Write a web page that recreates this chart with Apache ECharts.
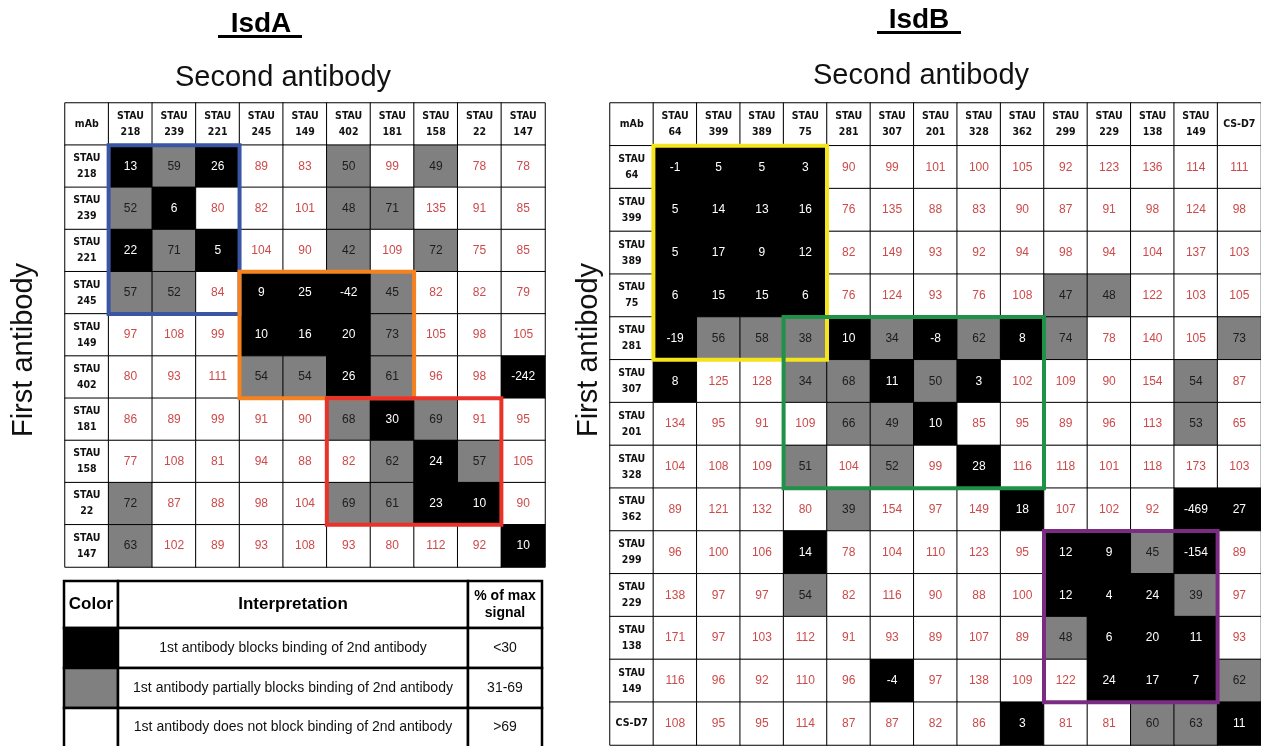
<!DOCTYPE html>
<html>
<head>
<meta charset="utf-8">
<title>IsdA / IsdB competition binning</title>
<script src="https://cdn.jsdelivr.net/npm/echarts@6/dist/echarts.min.js"></script>
<style>
  html, body { margin: 0; padding: 0; background: #ffffff; }
  #chart { width: 1261px; height: 746px; }
</style>
</head>
<body>
<div id="chart"></div>
<script>
// ---- IsdA panel: rows = first antibody, columns = second antibody (% of max signal)
const isdAMabs = ['STAU 218', 'STAU 239', 'STAU 221', 'STAU 245', 'STAU 149',
                  'STAU 402', 'STAU 181', 'STAU 158', 'STAU 22', 'STAU 147'];
const isdAValues = [
  [13, 59, 26, 89, 83, 50, 99, 49, 78, 78],
  [52, 6, 80, 82, 101, 48, 71, 135, 91, 85],
  [22, 71, 5, 104, 90, 42, 109, 72, 75, 85],
  [57, 52, 84, 9, 25, -42, 45, 82, 82, 79],
  [97, 108, 99, 10, 16, 20, 73, 105, 98, 105],
  [80, 93, 111, 54, 54, 26, 61, 96, 98, -242],
  [86, 89, 99, 91, 90, 68, 30, 69, 91, 95],
  [77, 108, 81, 94, 88, 82, 62, 24, 57, 105],
  [72, 87, 88, 98, 104, 69, 61, 23, 10, 90],
  [63, 102, 89, 93, 108, 93, 80, 112, 92, 10]
];
// B = blocks, G = partially blocks, W = does not block
const isdAClass = [
  'BGBWWGWGWW', 'GBWWWGGWWW', 'BGBWWGWGWW', 'GGWBBBGWWW', 'WWWBBBGWWW',
  'WWWGGBGWWB', 'WWWWWGBGWW', 'WWWWWWGBGW', 'GWWWWGGBBW', 'GWWWWWWWWB'
];
// competition groups: [first column, last column, first row, last row]
const isdAGroups = [
  ['STAU 218', 'STAU 221', 'STAU 218', 'STAU 245'],
  ['STAU 245', 'STAU 181', 'STAU 245', 'STAU 402'],
  ['STAU 402', 'STAU 22', 'STAU 181', 'STAU 22']
];

// ---- IsdB panel
const isdBMabs = ['STAU 64', 'STAU 399', 'STAU 389', 'STAU 75', 'STAU 281', 'STAU 307',
                  'STAU 201', 'STAU 328', 'STAU 362', 'STAU 299', 'STAU 229', 'STAU 138',
                  'STAU 149', 'CS-D7'];
const isdBValues = [
  [-1, 5, 5, 3, 90, 99, 101, 100, 105, 92, 123, 136, 114, 111],
  [5, 14, 13, 16, 76, 135, 88, 83, 90, 87, 91, 98, 124, 98],
  [5, 17, 9, 12, 82, 149, 93, 92, 94, 98, 94, 104, 137, 103],
  [6, 15, 15, 6, 76, 124, 93, 76, 108, 47, 48, 122, 103, 105],
  [-19, 56, 58, 38, 10, 34, -8, 62, 8, 74, 78, 140, 105, 73],
  [8, 125, 128, 34, 68, 11, 50, 3, 102, 109, 90, 154, 54, 87],
  [134, 95, 91, 109, 66, 49, 10, 85, 95, 89, 96, 113, 53, 65],
  [104, 108, 109, 51, 104, 52, 99, 28, 116, 118, 101, 118, 173, 103],
  [89, 121, 132, 80, 39, 154, 97, 149, 18, 107, 102, 92, -469, 27],
  [96, 100, 106, 14, 78, 104, 110, 123, 95, 12, 9, 45, -154, 89],
  [138, 97, 97, 54, 82, 116, 90, 88, 100, 12, 4, 24, 39, 97],
  [171, 97, 103, 112, 91, 93, 89, 107, 89, 48, 6, 20, 11, 93],
  [116, 96, 92, 110, 96, -4, 97, 138, 109, 122, 24, 17, 7, 62],
  [108, 95, 95, 114, 87, 87, 82, 86, 3, 81, 81, 60, 63, 11]
];
const isdBClass = [
  'BBBBWWWWWWWWWW', 'BBBBWWWWWWWWWW', 'BBBBWWWWWWWWWW', 'BBBBWWWWWGGWWW',
  'BGGGBGBGBGWWWG', 'BWWGGBGBWWWWGW', 'WWWWGGBWWWWWGW', 'WWWGWGWBWWWWWW',
  'WWWWGWWWBWWWBB', 'WWWBWWWWWBBGBW', 'WWWGWWWWWBBBGW', 'WWWWWWWWWGBBBW',
  'WWWWWBWWWWBBBG', 'WWWWWWWWBWWGGB'
];
const isdBGroups = [
  ['STAU 64', 'STAU 75', 'STAU 64', 'STAU 281'],
  ['STAU 75', 'STAU 362', 'STAU 281', 'STAU 328'],
  ['STAU 299', 'STAU 149', 'STAU 299', 'STAU 149']
];

// ---- key table
const keyHeaders = ['Color', 'Interpretation', '% of max\nsignal'];
const keyClasses = ['B', 'G', 'W'];
const keyMeaning = [
  '1st antibody blocks binding of 2nd antibody',
  '1st antibody partially blocks binding of 2nd antibody',
  '1st antibody does not block binding of 2nd antibody'
];
const keyRange = ['<30', '31-69', '>69'];

// ---- styling
const FILL = { B: '#000000', G: '#808080', W: '#ffffff' };
const TEXT = { B: '#ffffff', G: '#1c1c1c', W: '#cc4a4a' };
const SANS = "'Liberation Sans', Arial, sans-serif";
const NARROW = "'Liberation Sans Narrow', 'DejaVu Sans Condensed', 'Roboto Condensed', 'Liberation Sans', sans-serif";

const chart = echarts.init(document.getElementById('chart'), null, { renderer: 'canvas' });

const grids = [];
const xAxes = [];
const yAxes = [];
const series = [];

function addPanel(idx, mabs, values, classes, groups, groupColors, box) {
  const cats = ['mAb'].concat(mabs);
  grids.push({ left: box.left, top: box.top, width: box.width, height: box.height, containLabel: false });
  xAxes.push({ type: 'category', gridIndex: idx, data: cats, show: false });
  yAxes.push({ type: 'category', gridIndex: idx, data: cats, inverse: true, show: false });

  // header cells (top row and left column)
  const headerData = [];
  cats.forEach((c, j) => headerData.push({ value: [j, 0, 0], name: c }));
  mabs.forEach((c, i) => headerData.push({ value: [0, i + 1, 0], name: c }));
  series.push({
    type: 'heatmap',
    xAxisIndex: idx, yAxisIndex: idx,
    data: headerData,
    itemStyle: { color: '#ffffff', borderColor: '#000000', borderWidth: 1 },
    label: {
      show: true,
      formatter: p => p.data.name.replace(' ', '\n'),
      color: '#111111',
      fontFamily: NARROW,
      fontWeight: 'bold',
      fontSize: 10.5,
      lineHeight: 16
    },
    emphasis: { disabled: true },
    silent: true,
    z: 2
  });

  // measured cells
  const cellData = [];
  values.forEach((row, i) => {
    row.forEach((v, j) => {
      const k = classes[i][j];
      cellData.push({
        value: [j + 1, i + 1, v],
        itemStyle: { color: FILL[k] },
        label: { color: TEXT[k] }
      });
    });
  });
  series.push({
    type: 'heatmap',
    xAxisIndex: idx, yAxisIndex: idx,
    data: cellData,
    itemStyle: { borderColor: '#000000', borderWidth: 1 },
    label: {
      show: true,
      formatter: p => String(p.value[2]),
      fontFamily: SANS,
      fontSize: 12
    },
    emphasis: { disabled: true },
    silent: true,
    z: 2
  });

  // outlined competition groups
  series.push({
    type: 'custom',
    xAxisIndex: idx, yAxisIndex: idx,
    encode: { x: [0, 2], y: [1, 3] },
    clip: false,
    silent: true,
    z: 5,
    data: groups.map((g, n) => ({
      value: [cats.indexOf(g[0]), cats.indexOf(g[2]), cats.indexOf(g[1]), cats.indexOf(g[3])],
      itemStyle: { color: groupColors[n] }
    })),
    renderItem: (params, api) => {
      const x0 = api.value(0), y0 = api.value(1), x1 = api.value(2), y1 = api.value(3);
      const p0 = api.coord([x0, y0]);
      const sz = api.size([1, 1]);
      return {
        type: 'rect',
        shape: {
          x: p0[0] - sz[0] / 2,
          y: p0[1] - sz[1] / 2,
          width: (x1 - x0 + 1) * sz[0],
          height: (y1 - y0 + 1) * sz[1]
        },
        style: { fill: null, stroke: api.visual('color'), lineWidth: 4 }
      };
    }
  });
}

addPanel(0, isdAMabs, isdAValues, isdAClass, isdAGroups,
  ['#3a55a4', '#f5821f', '#e8322a'],
  { left: 65, top: 103, width: 480, height: 464 });
addPanel(1, isdBMabs, isdBValues, isdBClass, isdBGroups,
  ['#f3e41c', '#1f9247', '#7a2c82'],
  { left: 610, top: 103, width: 652, height: 642 });

// ---- titles, axis captions and the colour key
const graphic = [];
function title(text, cx, cy, ux0, ux1, uy) {
  graphic.push({ type: 'text', style: { text, x: cx, y: cy, fill: '#000', font: 'bold 28px ' + SANS, align: 'center', verticalAlign: 'middle' } });
  graphic.push({ type: 'line', shape: { x1: ux0, y1: uy, x2: ux1, y2: uy }, style: { stroke: '#000', lineWidth: 3 } });
}
title('IsdA', 261, 24, 218, 302, 36.5);
title('IsdB', 919, 20, 877, 961, 32.5);

function caption(text, x, y, rot) {
  graphic.push({ type: 'text', x, y, rotation: rot, style: { text, x: 0, y: 0, fill: '#111', font: '29px ' + SANS, align: 'center', verticalAlign: 'middle' } });
}
caption('Second antibody', 283, 78, 0);
caption('Second antibody', 921, 76, 0);
caption('First antibody', 24, 350, Math.PI / 2);
caption('First antibody', 589, 350, Math.PI / 2);

// key table
const kx = [64, 118, 468, 542];
const ky = [581, 628, 668, 708, 770];
const headSize = [17, 17, 14];
for (let c = 0; c < 3; c++) {
  graphic.push({ type: 'rect', shape: { x: kx[c], y: ky[0], width: kx[c + 1] - kx[c], height: ky[1] - ky[0] }, style: { fill: '#fff', stroke: '#000', lineWidth: 2.5 } });
  graphic.push({ type: 'text', style: {
    text: keyHeaders[c], x: (kx[c] + kx[c + 1]) / 2, y: (ky[0] + ky[1]) / 2,
    font: 'bold ' + headSize[c] + 'px ' + SANS, lineHeight: 17, fill: '#000', align: 'center', verticalAlign: 'middle' } });
}
for (let r = 0; r < 3; r++) {
  const y0 = ky[r + 1], y1 = ky[r + 2];
  graphic.push({ type: 'rect', shape: { x: kx[0], y: y0, width: kx[1] - kx[0], height: y1 - y0 }, style: { fill: FILL[keyClasses[r]], stroke: '#000', lineWidth: 2.5 } });
  graphic.push({ type: 'rect', shape: { x: kx[1], y: y0, width: kx[2] - kx[1], height: y1 - y0 }, style: { fill: '#fff', stroke: '#000', lineWidth: 2.5 } });
  graphic.push({ type: 'rect', shape: { x: kx[2], y: y0, width: kx[3] - kx[2], height: y1 - y0 }, style: { fill: '#fff', stroke: '#000', lineWidth: 2.5 } });
  const cy = r === 2 ? 727 : (y0 + y1) / 2;
  graphic.push({ type: 'text', style: { text: keyMeaning[r], x: (kx[1] + kx[2]) / 2, y: cy, font: '14px ' + SANS, fill: '#111', align: 'center', verticalAlign: 'middle' } });
  graphic.push({ type: 'text', style: { text: keyRange[r], x: (kx[2] + kx[3]) / 2, y: cy, font: '14px ' + SANS, fill: '#111', align: 'center', verticalAlign: 'middle' } });
}

chart.setOption({
  backgroundColor: '#ffffff',
  animation: false,
  grid: grids,
  xAxis: xAxes,
  yAxis: yAxes,
  series,
  graphic
});
</script>
</body>
</html>
